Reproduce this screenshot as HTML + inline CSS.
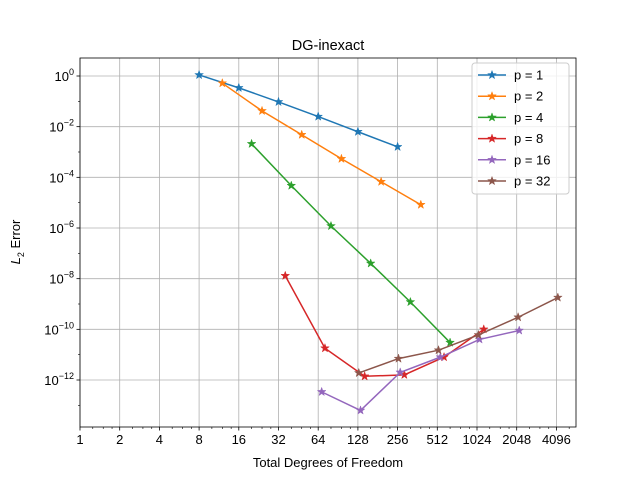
<!DOCTYPE html>
<html><head><meta charset="utf-8"><style>
body{margin:0;background:#fff;}
svg{font-family:"Liberation Sans","DejaVu Sans",sans-serif;}
</style></head><body>
<svg id="chart" width="640" height="480"></svg>
<script>
const xTicks=[1,2,4,8,16,32,64,128,256,512,1024,2048,4096];
const yTickExps=[0,-2,-4,-6,-8,-10,-12];
const seriesNames=["p = 1","p = 2","p = 4","p = 8","p = 16","p = 32"];
const colors=["#1f77b4","#ff7f0e","#2ca02c","#d62728","#9467bd","#8c564b"];
const x1=[8,16,32,64,128,256];
const y1=[1.1,0.34,0.095,0.025,0.0063,0.0016];
const x2=[12,24,48,96,192,384];
const y2=[0.52,0.042,0.0048,5.4e-4,6.7e-5,8.3e-6];
const x4=[20,40,80,160,320,640];
const y4=[2.1e-3,4.7e-5,1.2e-6,4e-8,1.2e-9,3e-11];
const x8=[36,72,144,288,576,1152];
const y8=[1.3e-8,1.8e-11,1.4e-12,1.6e-12,8e-12,1e-10];
const x16=[68,134,268,540,1070,2140];
const y16=[3.4e-13,6.3e-14,2e-12,8e-12,4e-11,9e-11];
const x32=[130,260,523,1050,2100,4200];
const y32=[1.9e-12,7e-12,1.5e-11,6e-11,3e-10,1.8e-9];
const X=[x1,x2,x4,x8,x16,x32], Y=[y1,y2,y4,y8,y16,y32];

const L=80,R=576,T=58,B=427;
const xs=v=>L+Math.log2(v)*39.7;
const ys=v=>76-Math.log10(v)*(304/12);
const svg=document.getElementById('chart');
const NS="http://www.w3.org/2000/svg";
function mk(t,a,p){const e=document.createElementNS(NS,t);for(const k in a)e.setAttribute(k,a[k]);(p||svg).appendChild(e);return e;}

const grid=mk('g',{});


xTicks.forEach(v=>{const x=xs(v);
 mk('line',{x1:x,x2:x,y1:T,y2:B,stroke:'#b0b0b0','stroke-width':0.8},grid);
 mk('line',{x1:x,x2:x,y1:B,y2:B+3.5,stroke:'#000','stroke-width':0.8});
 const t=mk('text',{x:x,y:B+17,'font-size':13,'text-anchor':'middle'});t.textContent=v;
 
 
});
// minor x ticks between octaves
for(let k=0;k<13;k++){for(let m=5;m<8;m++){const v=Math.pow(2,k)*m/4;if(v<5793&&m!==4){const x=xs(v);mk('line',{x1:x,x2:x,y1:B,y2:B+2,stroke:'#000','stroke-width':0.6});}}}
yTickExps.forEach(e=>{const y=ys(Math.pow(10,e));
 mk('line',{x1:L,x2:R,y1:y,y2:y,stroke:'#b0b0b0','stroke-width':0.8},grid);
 mk('line',{x1:L-3.5,x2:L,y1:y,y2:y,stroke:'#000','stroke-width':0.8});
 const t=mk('text',{x:L-6,y:y+5,'font-size':13,'text-anchor':'end'});
 t.innerHTML='10<tspan dy="-6" font-size="9">'+(e===0?'0':'\u2212'+(-e))+'</tspan>';
 
 
});
for(let e=-13;e<=0;e+=2){const y=ys(Math.pow(10,e));mk('line',{x1:L-2,x2:L,y1:y,y2:y,stroke:'#000','stroke-width':0.6});}

function star(cx,cy,r,c,p){let d='';for(let i=0;i<10;i++){const a=-Math.PI/2+i*Math.PI/5;const rr=i%2?r*0.4:r;d+=(i?'L':'M')+(cx+rr*Math.cos(a)).toFixed(2)+','+(cy+rr*Math.sin(a)).toFixed(2);}return mk('path',{d:d+'Z',fill:c,stroke:c,'stroke-width':0.5},p);}

X.forEach((xa,i)=>{const g=mk('g',{});
 
 
 mk('polyline',{points:xa.map((v,j)=>xs(v)+','+ys(Y[i][j])).join(' '),fill:'none',stroke:colors[i],'stroke-width':1.5},g);
 xa.forEach((v,j)=>star(xs(v),ys(Y[i][j]),4.5,colors[i],g));
});
mk('rect',{x:L,y:T,width:R-L,height:B-T,fill:'none',stroke:'#000','stroke-width':0.8});

const tt=mk('text',{x:328,y:50,'font-size':14.5,'text-anchor':'middle'});tt.textContent='DG-inexact';

const xl=mk('text',{x:328,y:467,'font-size':13,'text-anchor':'middle'});xl.textContent='Total Degrees of Freedom';

const yl=mk('text',{x:0,y:0,'font-size':13,'text-anchor':'middle',transform:'translate(20,242) rotate(-90)'});
yl.innerHTML='<tspan font-style="italic">L</tspan><tspan dy="4" font-size="9">2</tspan><tspan dy="-4"> Error</tspan>';


const lg=mk('g',{});


mk('rect',{x:472,y:63,width:97,height:131,rx:3,fill:'#fff','fill-opacity':0.8,stroke:'#ccc'},lg);
seriesNames.forEach((n,i)=>{const y=75+i*21.2;
 const e=mk('g',{},lg);
 
 
 mk('line',{x1:478,x2:506,y1:y,y2:y,stroke:colors[i],'stroke-width':1.5},e);
 star(492,y,4.5,colors[i],e);
 const t=mk('text',{x:514,y:y+4.5,'font-size':13},e);t.textContent=n;
});
</script>
</body></html>
